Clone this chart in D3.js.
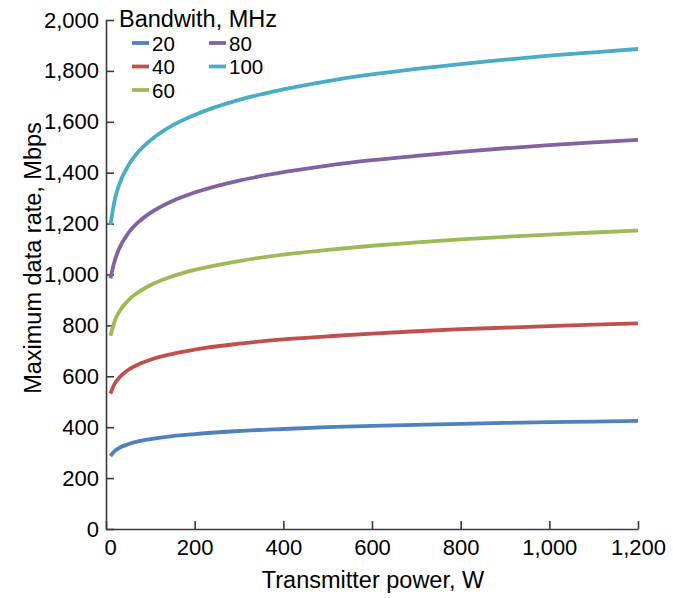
<!DOCTYPE html>
<html>
<head>
<meta charset="utf-8">
<script src="https://cdn.jsdelivr.net/npm/d3@7"></script>
<style>
  html, body { margin: 0; padding: 0; background: #fff; }
  svg { display: block; font-family: "Liberation Sans", Arial, sans-serif; }
</style>
</head>
<body>
<svg id="chart" width="673" height="598"></svg>
<script>
// ---- data ----
const powerW = [10, 20, 30, 50, 75, 100, 150, 200, 300, 400, 500, 600, 700, 800, 900, 1000, 1100, 1200];
const bandwidths = ["20", "40", "60", "80", "100"];
const rate20  = [287, 307, 319, 333, 345, 353, 365, 373, 385, 393, 400, 405, 409, 413, 417, 420, 422, 425];
const rate40  = [532, 572, 595, 625, 648, 665, 688, 705, 728, 745, 757, 768, 777, 785, 791, 797, 803, 808];
const rate60  = [759, 819, 854, 898, 933, 958, 993, 1018, 1053, 1078, 1097, 1113, 1126, 1138, 1148, 1157, 1165, 1173];
const rate80  = [985, 1056, 1103, 1162, 1209, 1242, 1289, 1322, 1369, 1402, 1428, 1449, 1466, 1482, 1496, 1508, 1519, 1529];
const rate100 = [1195, 1295, 1354, 1427, 1486, 1527, 1586, 1627, 1686, 1727, 1760, 1786, 1808, 1827, 1844, 1860, 1873, 1886];
const xTicks = [0, 200, 400, 600, 800, 1000, 1200];
const yTicks = [0, 200, 400, 600, 800, 1000, 1200, 1400, 1600, 1800, 2000];
const colors = ["#4F81BD", "#C0504D", "#9BBB59", "#8064A2", "#4BACC6"];

const seriesValues = [rate20, rate40, rate60, rate80, rate100];
const series = bandwidths.map((b, i) => ({
  name: b, color: colors[i],
  points: powerW.map((p, j) => ({ p, r: seriesValues[i][j] }))
}));

const svg = d3.select("#chart");
const axisColor = "#3a3a3a";
const fmt = d3.format(",");
const tickFont = 22, titleFont = 23.5, legendFont = 20.5;

const x = d3.scaleLinear().domain([0, 1200]).range([106, 638]);
const y = d3.scaleLinear().domain([0, 2000]).range([529, 20]);

// X axis
const gx = svg.append("g").attr("transform", `translate(0,${y(0)})`)
  .call(d3.axisBottom(x).tickValues(xTicks).tickFormat(fmt).tickSize(-8).tickSizeOuter(0).tickPadding(10));
gx.select(".domain").attr("stroke", axisColor).attr("stroke-width", 1.6);
gx.selectAll(".tick line").attr("stroke", axisColor).attr("stroke-width", 1.6);
gx.selectAll(".tick text").attr("font-size", tickFont).attr("fill", "#000")
  .attr("font-family", "Liberation Sans, Arial, sans-serif");
gx.selectAll(".tick text").filter(d => d === 0).attr("dx", 4);

// Y axis
const gy = svg.append("g").attr("transform", `translate(${x(0)},0)`)
  .call(d3.axisLeft(y).tickValues(yTicks).tickFormat(fmt).tickSize(-8).tickSizeOuter(0).tickPadding(7));
gy.select(".domain").attr("stroke", axisColor).attr("stroke-width", 1.6);
gy.selectAll(".tick line").attr("stroke", axisColor).attr("stroke-width", 1.6);
gy.selectAll(".tick text").attr("font-size", tickFont).attr("fill", "#000")
  .attr("font-family", "Liberation Sans, Arial, sans-serif");

// Axis titles
svg.append("text").attr("x", 373).attr("y", 588).attr("text-anchor", "middle")
  .attr("font-size", titleFont).attr("fill", "#000").text("Transmitter power, W");
svg.append("text").attr("transform", `translate(41,258) rotate(-90)`).attr("text-anchor", "middle")
  .attr("font-size", titleFont).attr("fill", "#000").text("Maximum data rate, Mbps");

// Lines
const line = d3.line().x(d => x(d.p)).y(d => y(d.r)).curve(d3.curveMonotoneX);
svg.append("g").selectAll("path").data(series).join("path")
  .attr("d", d => line(d.points))
  .attr("fill", "none").attr("stroke", d => d.color).attr("stroke-width", 3.8)
  .attr("stroke-linecap", "butt");

// Legend
const lg = svg.append("g");
lg.append("text").attr("x", 119).attr("y", 27).attr("font-size", titleFont).attr("fill", "#000").text("Bandwith, MHz");
const legPos = [[0,0],[0,1],[0,2],[1,0],[1,1]];
series.forEach((s, i) => {
  const [c, r] = legPos[i];
  const lx = 132 + c * 77, ly = 43 + r * 23.5;
  lg.append("line").attr("x1", lx).attr("x2", lx + 17).attr("y1", ly).attr("y2", ly)
    .attr("stroke", s.color).attr("stroke-width", 3.8);
  lg.append("text").attr("x", lx + 20).attr("y", ly + 7.5).attr("font-size", legendFont).attr("fill", "#000").text(s.name);
});
</script>
</body>
</html>
